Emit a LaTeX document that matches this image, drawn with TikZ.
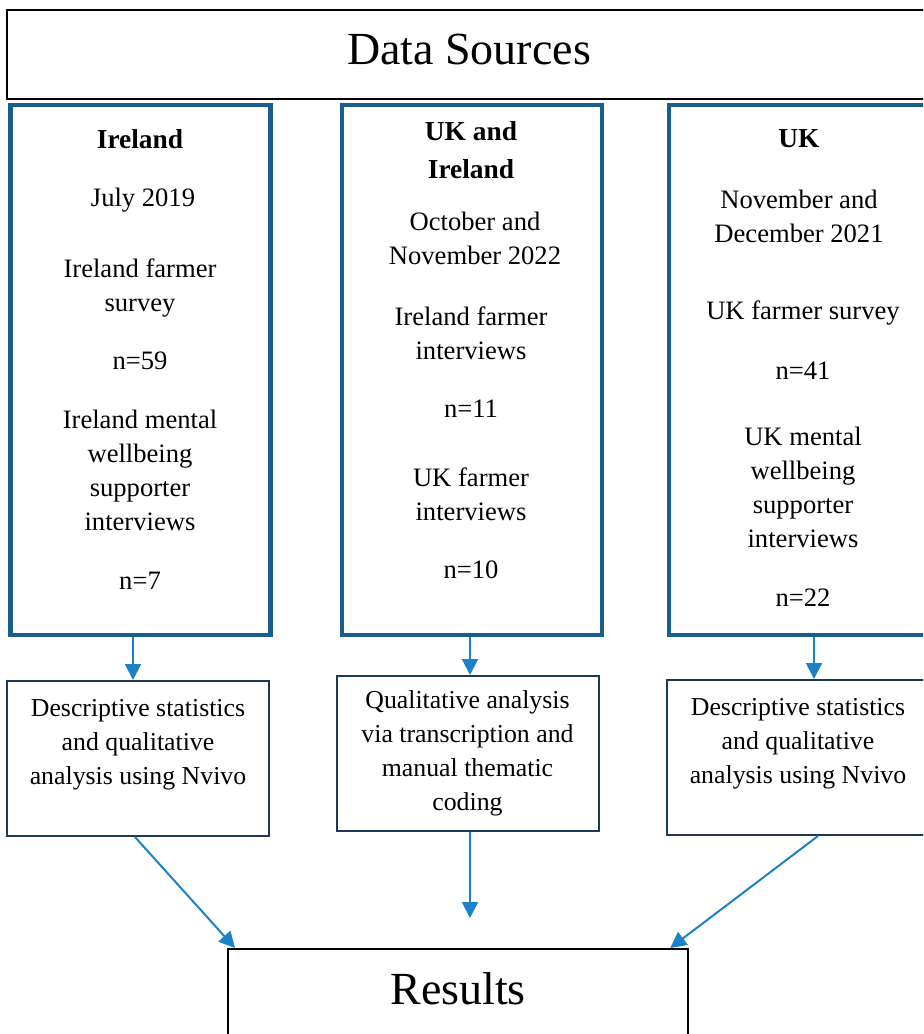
\documentclass[tikz,border=0pt]{standalone}
\usepackage{fontspec}
\setmainfont{Liberation Serif}
\usetikzlibrary{arrows.meta}

\definecolor{boxblue}{RGB}{26,94,140}
\definecolor{arrowblue}{RGB}{27,130,200}
\definecolor{anaborder}{RGB}{28,58,88}

\begin{document}
\begin{tikzpicture}[
  x=0.5pt, y=-0.5pt,
  every node/.style = {font=\fontsize{13.3}{17}\selectfont, align=center, inner sep=0pt},
  headbox/.style = {draw=black, line width=1.1pt, font=\fontsize{23}{28}\selectfont},
  srcbox/.style  = {draw=boxblue, line width=2.4pt, minimum width=130pt, minimum height=265pt},
  anabox/.style  = {draw=anaborder, line width=1pt, minimum width=131pt, minimum height=77.5pt,
                    font=\fontsize{12.9}{17}\selectfont},
  heading/.style = {font=\fontsize{13.7}{19}\selectfont\bfseries},
  flow/.style    = {-{Triangle[width=8pt,length=8pt]}, arrowblue, line width=1pt},
]

%% -- Frame (the reference is cut at right and bottom) -------------------------
\useasboundingbox (0,0) rectangle (923,1034);
\clip (0,0) rectangle (923,1034);

%% -- Column x-coordinates (px) ------------------------------------------------
\def\xL{140}
\def\xM{471}
\def\xR{803}

%% -- Title -------------------------------------------------------------------
\node[headbox, anchor=north, minimum width=462pt, text height=27pt, text depth=17.5pt]
  (sources) at (469,9) {Data Sources};

%% -- Data source boxes -------------------------------------------------------
\node[srcbox] (ire)  at (140.5,370) {};
\node[srcbox] (both) at (472,370) {};
\node[srcbox, minimum width=131pt] (uk) at (800,370) {};

% Ireland
\node[heading] (ireHead)   at (\xL,139) {Ireland};
\node (ireDate)            at (143,200) {July 2019};
\node (ireSurvey)          at (\xL,288) {Ireland farmer\\survey};
\node (ireSurveyN)         at (\xL,361) {n=59};
\node (ireSupport)         at (\xL,470.5) {Ireland mental\\wellbeing\\supporter\\interviews};
\node (ireSupportN)        at (\xL,581) {n=7};

% UK and Ireland
\node[heading] (bothHead)  at (\xM,150) {UK and\\Ireland};
\node (bothDate)           at (475,238.5) {October and\\November 2022};
\node (bothIreInt)         at (\xM,333) {Ireland farmer\\interviews};
\node (bothIreN)           at (\xM,409) {n=11};
\node (bothUkInt)          at (\xM,494) {UK farmer\\interviews};
\node (bothUkN)            at (\xM,570) {n=10};

% UK
\node[heading] (ukHead)    at (799,139) {UK};
\node (ukDate)             at (799,216) {November and\\December 2021};
\node (ukSurvey)           at (\xR,313) {UK farmer survey};
\node (ukSurveyN)          at (\xR,371) {n=41};
\node (ukSupport)          at (\xR,487) {UK mental\\wellbeing\\supporter\\interviews};
\node (ukSupportN)         at (\xR,598) {n=22};

%% -- Analysis boxes ----------------------------------------------------------
\node[anabox] (ireAna)  at (138,758.5)
  {Descriptive statistics\\and qualitative\\analysis using Nvivo\\\mbox{}};
\node[anabox] (bothAna) at (467.5,753.5)
  {Qualitative analysis\\via transcription and\\manual thematic\\coding};
\node[anabox] (ukAna)   at (798,757.5)
  {Descriptive statistics\\and qualitative\\analysis using Nvivo\\\mbox{}};

%% -- Results -----------------------------------------------------------------
\node[headbox, anchor=north west, minimum width=230pt, text height=27.5pt, text depth=40pt]
  (results) at (227,948) {Results};
\coordinate (resultsIn) at (470,918);

%% -- Connectors --------------------------------------------------------------
\draw[flow] ([xshift=-3.75pt]ire.south) -- ([xshift=-3.75pt]ire.south |- ireAna.north);
\draw[flow] ([xshift=-1pt]both.south)   -- ([xshift=-1pt]both.south |- bothAna.north);
\draw[flow] ([xshift=7pt]uk.south)      -- ([xshift=7pt]uk.south |- ukAna.north);

\draw[flow] ([xshift=-1.5pt]ireAna.south) -- ([xshift=4pt]results.north west);
\draw[flow] ([xshift=1.25pt]bothAna.south) -- (resultsIn);
\draw[flow] ([xshift=10pt]ukAna.south)   -- ([xshift=-9.5pt]results.north east);

\end{tikzpicture}
\end{document}
